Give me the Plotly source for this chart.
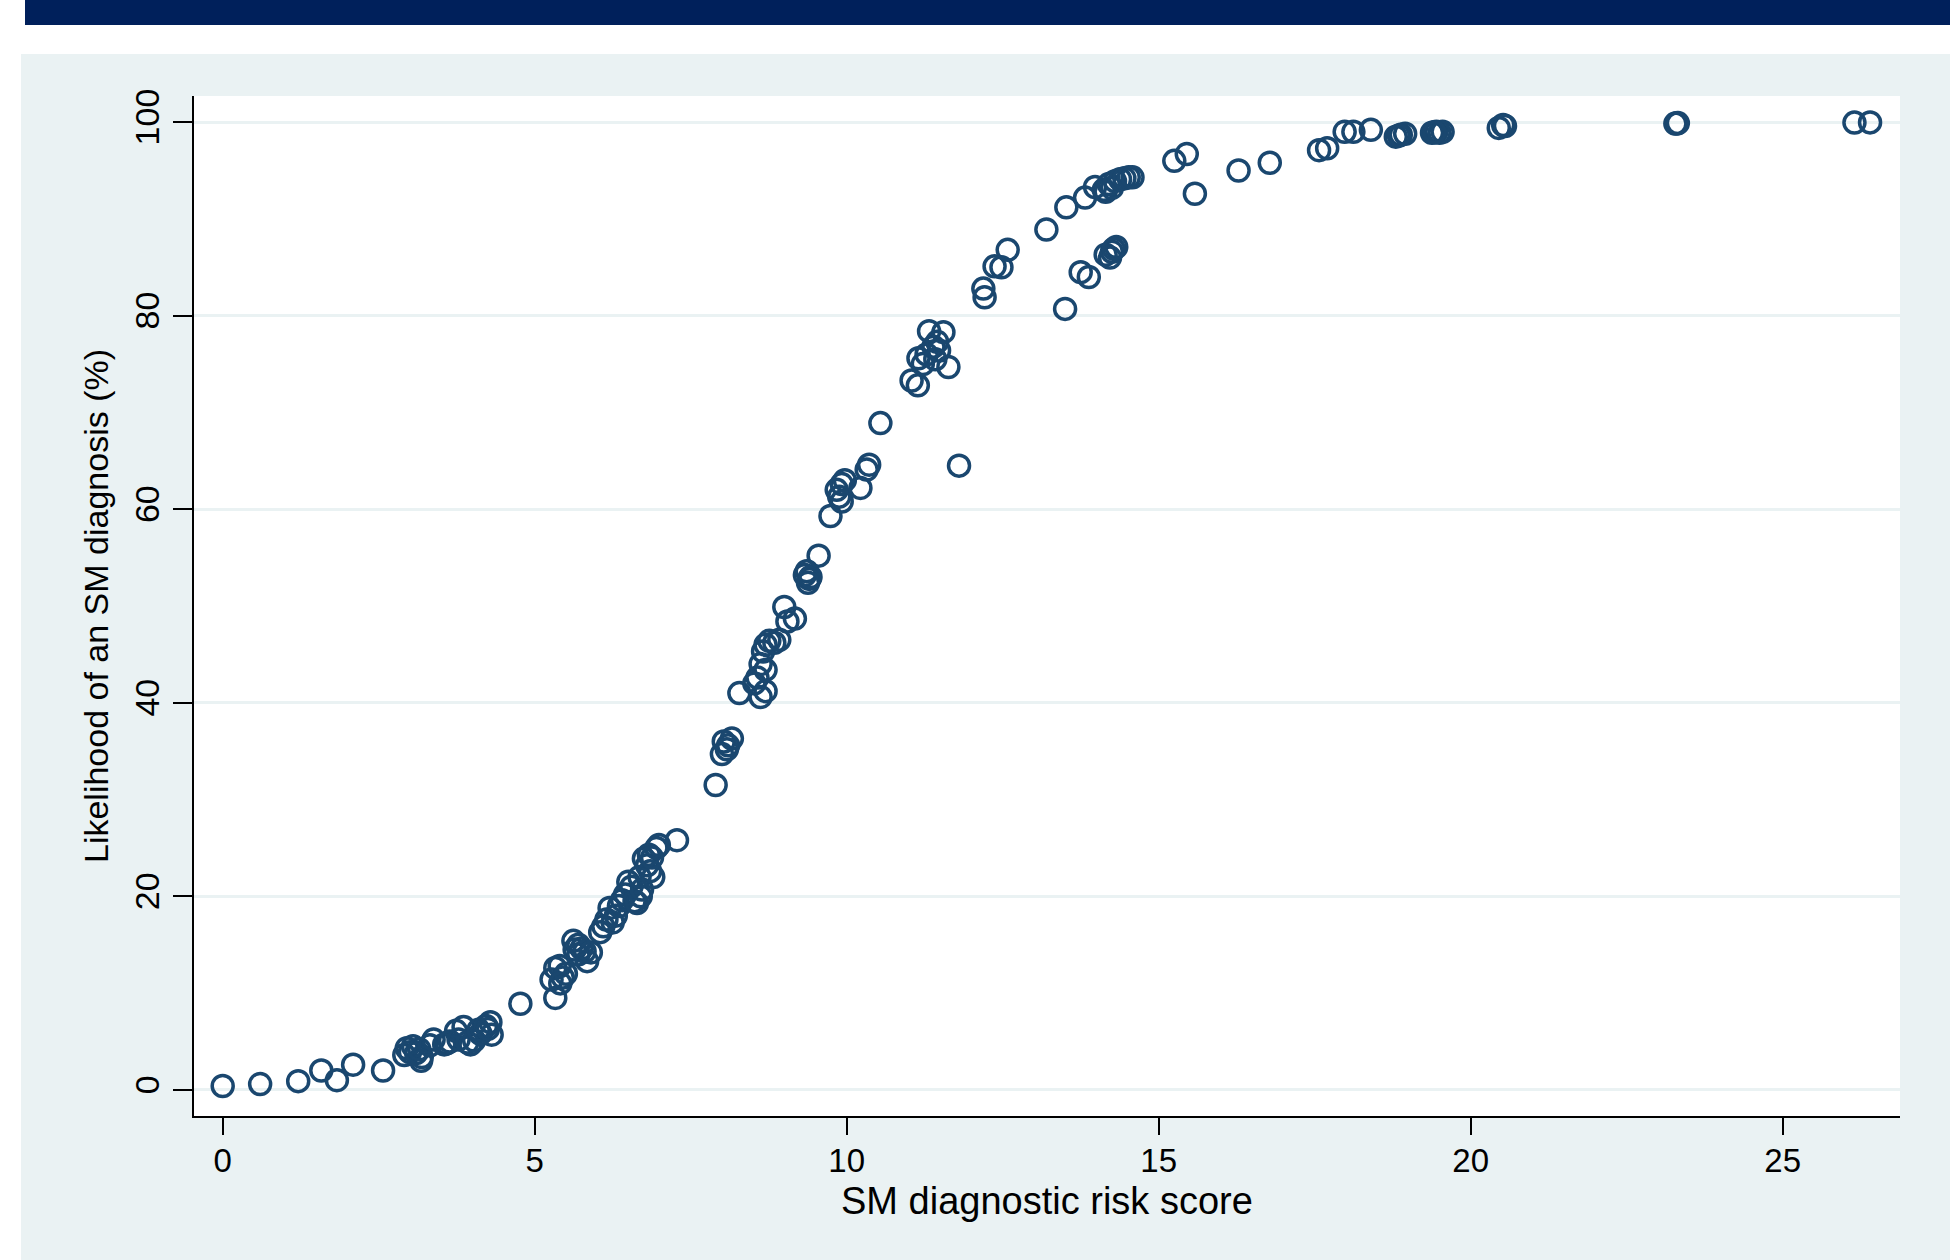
import plotly.graph_objects as go

# ---- data ----
risk_score = [
    0.00, 0.60, 1.21, 1.58, 1.83, 2.09, 2.57,
    2.91, 2.95, 3.00, 3.05, 3.10, 3.18, 3.19, 3.15,
    3.38, 3.32, 3.59, 3.55, 3.74, 3.86, 3.64, 3.78, 3.97, 3.92, 4.03, 4.13, 4.10, 4.22, 4.29, 4.31, 4.25,
    4.77,
    5.33, 5.27, 5.33, 5.40, 5.45, 5.50, 5.41,
    5.62, 5.64, 5.70, 5.75, 5.80, 5.84, 5.90, 5.70,
    6.05, 6.10, 6.15, 6.20, 6.25, 6.30, 6.35, 6.40, 6.45,
    6.50, 6.55, 6.60, 6.64, 6.70, 6.72, 6.68, 6.75, 6.80, 6.85, 6.90, 6.83, 6.95, 6.99, 6.88, 7.28,
    7.90, 8.00, 8.03, 8.10, 8.16, 8.08,
    8.28, 8.52, 8.57, 8.62, 8.66, 8.70, 8.70, 8.62, 8.76, 8.70, 8.84, 8.92,
    9.00, 9.05, 9.17,
    9.33, 9.36, 9.40, 9.38, 9.42, 9.55,
    9.74, 9.84, 9.88, 9.92, 9.97, 9.92, 10.22, 10.32, 10.36,
    10.54,
    11.04, 11.14, 11.15, 11.22, 11.32, 11.28, 11.39, 11.45, 11.48, 11.55, 11.42, 11.63, 11.80,
    12.19, 12.21, 12.37, 12.48, 12.58,
    13.20, 13.50, 13.52, 13.75, 13.88, 13.82, 13.98,
    14.12, 14.15, 14.20, 14.25, 14.30, 14.38, 14.45, 14.52, 14.58,
    14.15, 14.22, 14.25, 14.32, 14.28,
    15.25, 15.45, 15.58,
    16.28, 16.78,
    17.57, 17.70,
    17.98, 18.12, 18.40,
    18.80, 18.88, 18.95, 18.85,
    19.38, 19.45, 19.50, 19.55, 19.42,
    20.45, 20.52, 20.55,
    23.28, 23.30, 23.32,
    26.15, 26.40,
]

likelihood = [
    0.4, 0.6, 0.9, 2.0, 1.0, 2.6, 2.0,
    3.6, 4.3, 3.9, 4.5, 3.8, 3.0, 3.4, 4.2,
    5.2, 4.6, 4.8, 4.7, 6.1, 6.5, 5.0, 5.2, 4.7, 4.9, 5.1, 5.8, 6.2, 6.6, 7.0, 5.7, 6.3,
    8.9,
    9.5, 11.4, 12.6, 12.8, 11.6, 12.0, 11.0,
    15.4, 14.5, 14.0, 14.6, 14.3, 13.3, 14.2, 15.0,
    16.3, 16.9, 17.6, 18.8, 17.3, 18.0, 19.0, 19.6, 20.2,
    21.5, 21.0, 19.5, 19.3, 20.0, 20.7, 22.0, 23.9, 23.2, 22.6, 22.0, 24.3, 25.0, 25.3, 24.0, 25.8,
    31.5, 34.7, 36.0, 35.6, 36.3, 35.2,
    41.0, 42.0, 42.6, 40.6, 45.3, 43.4, 41.2, 44.0, 46.4, 46.0, 46.2, 46.5,
    49.9, 48.4, 48.7,
    53.2, 53.6, 52.8, 52.4, 53.0, 55.2,
    59.3, 62.0, 61.3, 62.6, 63.0, 60.8, 62.2, 64.1, 64.6,
    68.9,
    73.3, 72.8, 75.6, 75.0, 78.4, 76.0, 76.8, 77.3, 76.4, 78.3, 75.5, 74.7, 64.5,
    82.8, 81.9, 85.1, 85.0, 86.8,
    88.9, 80.7, 91.2, 84.5, 84.0, 92.2, 93.3,
    93.0, 92.8, 93.6, 93.2, 93.9, 94.1, 94.2, 94.3, 94.3,
    86.3, 86.0, 86.6, 87.1, 86.9,
    96.0, 96.7, 92.6,
    95.0, 95.8,
    97.1, 97.3,
    99.0, 99.0, 99.2,
    98.5, 98.7, 98.8, 98.6,
    98.9, 99.0, 98.9, 99.0, 98.95,
    99.4, 99.7, 99.6,
    99.85, 99.85, 99.9,
    99.95, 99.97,
]

x_ticks = [0, 5, 10, 15, 20, 25]
y_ticks = [0, 20, 40, 60, 80, 100]
x_title = "SM diagnostic risk score"
y_title = "Likelihood of an SM diagnosis (%)"

# ---- style / layout ----
W, H = 1959, 1260
PL, PR, PT, PB = 194, 1900, 96, 1116  # plot area in pixels
NAVY = "#1a476f"
PANEL = "#eaf2f3"
BAND = "#00205b"
FONT = "Liberation Sans, Arial, Helvetica, sans-serif"


def px(xp):
    return (xp - PL) / (PR - PL)


def py(yp):
    return (PB - yp) / (PB - PT)


def rect(x0, y0, x1, y1, color):
    return dict(type="rect", xref="paper", yref="paper",
                x0=px(x0), x1=px(x1), y0=py(y1), y1=py(y0),
                fillcolor=color, line=dict(width=0), layer="below")


fig = go.Figure()
fig.add_trace(go.Scatter(
    x=risk_score, y=likelihood, mode="markers",
    marker=dict(symbol="circle-open", size=21, color=NAVY,
                line=dict(width=3.5, color=NAVY)),
    showlegend=False, hoverinfo="x+y",
))

fig.update_layout(
    width=W, height=H,
    margin=dict(l=PL, r=W - PR, t=PT, b=H - PB, autoexpand=False),
    paper_bgcolor="white",
    plot_bgcolor="white",
    font=dict(family=FONT, color="black", size=34),
    showlegend=False,
    shapes=[
        rect(21, 54, 1950, 1260, PANEL),
        rect(PL, PT, PR, PB, "white"),
        rect(25, 0, 1950, 25, BAND),
    ],
    annotations=[
        dict(text=x_title, xref="paper", yref="paper",
             x=px(1047), y=py(1201), xanchor="center", yanchor="middle",
             showarrow=False, font=dict(size=38, family=FONT, color="black")),
    ],
)

fig.update_xaxes(
    range=[-0.46, 26.88], tickvals=x_ticks, ticktext=[str(v) for v in x_ticks],
    showgrid=False, zeroline=False,
    showline=True, linecolor="black", linewidth=2,
    ticks="outside", ticklen=17, tickwidth=2, tickcolor="black",
    ticklabelstandoff=-3,
    tickfont=dict(size=33, family=FONT),
    automargin=False,
)
fig.update_yaxes(
    range=[-2.7, 102.7], tickvals=y_ticks, ticktext=[str(v) for v in y_ticks],
    showgrid=True, gridcolor=PANEL, gridwidth=3, zeroline=False,
    showline=True, linecolor="black", linewidth=2,
    ticks="outside", ticklen=19, tickwidth=2, tickcolor="black",
    tickangle=-90,
    tickfont=dict(size=34, family=FONT),
    title=dict(text=y_title, font=dict(size=34, family=FONT), standoff=10),
    automargin=False,
)

fig.write_html("out.html")
